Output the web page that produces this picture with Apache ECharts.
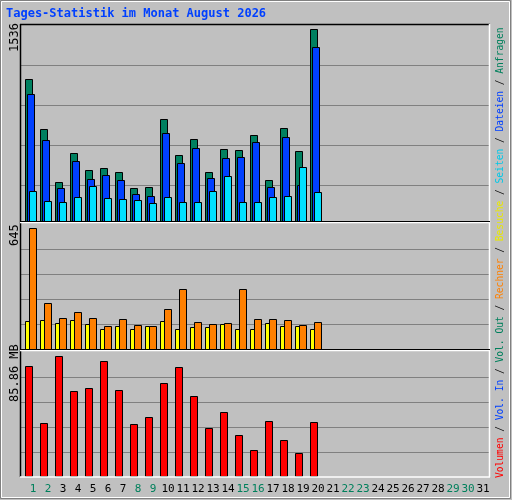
<!DOCTYPE html>
<html><head><meta charset="utf-8">
<script src="https://cdn.jsdelivr.net/npm/echarts@6/dist/echarts.min.js"></script>
<style>html,body{margin:0;padding:0;background:#c0c0c0}#c{width:512px;height:500px}</style>
</head><body><div id="c"></div>
<script>
const days = Array.from({length:31},(_,i)=>String(i+1));
const weekend = [1,2,8,9,15,16,22,23,29,30];
const hits  = [1139,737,311,544,407,424,391,263,271,817,528,657,391,576,568,689,327,745,560,1536];
const files = [1019,649,263,480,335,367,327,215,199,705,464,585,343,504,512,633,271,673,287,1397];
const pages = [239,158,150,191,279,182,174,166,142,191,150,150,239,359,150,150,191,199,432,231];
const visits= [145,151,134,151,129,102,118,102,118,145,107,113,113,129,107,107,134,118,118,102];
const sites = [645,242,161,193,161,118,156,124,118,210,317,140,129,134,317,156,156,151,124,140];
const volume= [78.7,37.9,85.86,60.6,62.7,82.3,61.3,37.0,42.0,66.3,78.0,57.0,34.1,45.6,29.1,18.4,39.1,25.5,16.2,38.4];
const maxLabels = ['1536','645','85.86 MB'];

function bar(data, grid, color, off, w, z){
  return {type:'custom', xAxisIndex:grid, yAxisIndex:grid, z:z,
    data:data.map((v,i)=>[i,v]),
    renderItem:(p,api)=>{
      const top=api.coord([api.value(0),api.value(1)]);
      const base=api.coord([api.value(0),0]);
      const bw=api.size([1,0])[0];
      const x=Math.round(base[0]-bw/2+off)+0.5;
      return {type:'rect',shape:{x:x,y:Math.round(top[1])+0.5,width:w,height:Math.round(base[1])-Math.round(top[1])},
        style:{fill:color,stroke:'#000',lineWidth:1}};
    }};
}
const grids=[{left:22,right:25,top:25,height:196},{left:22,right:25,top:224,height:124.5},{left:22,right:25,top:352,height:124}];
const maxes=[1570,666.5,88.72];
const xAxes=grids.map((g,i)=>({type:'category',gridIndex:i,data:days,boundaryGap:true,
  axisLine:{show:false},axisTick:{show:false},
  axisLabel:{show:i===2,interval:0,margin:8,padding:[0,0,0,7],fontFamily:'DejaVu Sans Mono',fontSize:11,
    color:(v)=>weekend.includes(+v)?'#00805c':'#000'}}));
const yAxes=grids.map((g,i)=>({type:'value',gridIndex:i,min:0,max:maxes[i],splitLine:{show:false},axisLabel:{show:false},axisLine:{show:false},axisTick:{show:false}}));
const gl=[];
[[65,105,145,185],[249,274,299,324],[377,402,427,452]].forEach(a=>a.forEach(y=>gl.push({type:'line',shape:{x1:21,y1:y+0.5,x2:489,y2:y+0.5},style:{stroke:'#808080',lineWidth:1},z:0})));
const frame=[
 {type:'line',shape:{x1:20,y1:24.5,x2:490,y2:24.5},style:{stroke:'#000',lineWidth:1.5}},
 {type:'line',shape:{x1:20.5,y1:24,x2:20.5,y2:477},style:{stroke:'#000',lineWidth:1.5}},
 {type:'line',shape:{x1:489.5,y1:24,x2:489.5,y2:477},style:{stroke:'#fff',lineWidth:1.5}},
 {type:'line',shape:{x1:20,y1:477,x2:490,y2:477},style:{stroke:'#fff',lineWidth:1.5}},
 {type:'line',shape:{x1:20,y1:222.5,x2:490,y2:222.5},style:{stroke:'#fff',lineWidth:1.5}},
 {type:'line',shape:{x1:20,y1:221.5,x2:490,y2:221.5},style:{stroke:'#000',lineWidth:1}},
 {type:'line',shape:{x1:20,y1:350.5,x2:490,y2:350.5},style:{stroke:'#fff',lineWidth:1.5}},
 {type:'line',shape:{x1:20,y1:349.5,x2:490,y2:349.5},style:{stroke:'#000',lineWidth:1}},
 {type:'rect',shape:{x:0.5,y:0.5,width:510,height:498},style:{fill:'none',stroke:'#808080',lineWidth:1}},
 {type:'rect',shape:{x:1.5,y:1.5,width:508,height:496},style:{fill:'none',stroke:'#fff',lineWidth:1}}
].map(o=>Object.assign(o,{z:10}));
const ylab=[[15,52],[15,246],[15,402]].map((p,i)=>({type:'text',x:p[0],y:p[1],rotation:Math.PI/2,z:10,
  style:{text:maxLabels[i],fill:'#000',font:'12px "DejaVu Sans Mono"',align:'left',verticalAlign:'middle'}}));
const leg=[['Volumen','#ff0000'],['Vol. In','#0040ff'],['Vol. Out','#00805c'],['Rechner','#ff8000'],['Besuche','#e8e800'],['Seiten','#00c8e8'],['Dateien','#0040ff'],['Anfragen','#00805c']];
const rich={s:{fill:'#000'}};let txt='';
leg.forEach((l,i)=>{rich['a'+i]={fill:l[1]};txt+=(i?'{s| / }':'')+'{a'+i+'|'+l[0]+'}';});
const legend={type:'text',x:500,y:478,rotation:Math.PI/2,z:10,style:{text:txt,rich:rich,font:'9.6px "DejaVu Sans Mono"',align:'left',verticalAlign:'middle'}};
const title={type:'text',x:6,y:14,z:10,style:{text:'Tages-Statistik im Monat August 2026',fill:'#0040ff',font:'bold 12px "DejaVu Sans Mono"',verticalAlign:'middle'}};
const chart=echarts.init(document.getElementById('c'));
chart.setOption({backgroundColor:'#c0c0c0',animation:false,grid:grids,xAxis:xAxes,yAxis:yAxes,
 series:[bar(hits,0,'#008060',3,7,3),bar(files,0,'#0040ff',5,7,4),bar(pages,0,'#00e0ff',7,7,5),
   bar(visits,1,'#ffff00',3,4,3),bar(sites,1,'#ff8000',7,7,4),bar(volume,2,'#ff0000',3,7,3)],
 graphic:gl.concat(frame,ylab,[legend,title])});
</script></body></html>
